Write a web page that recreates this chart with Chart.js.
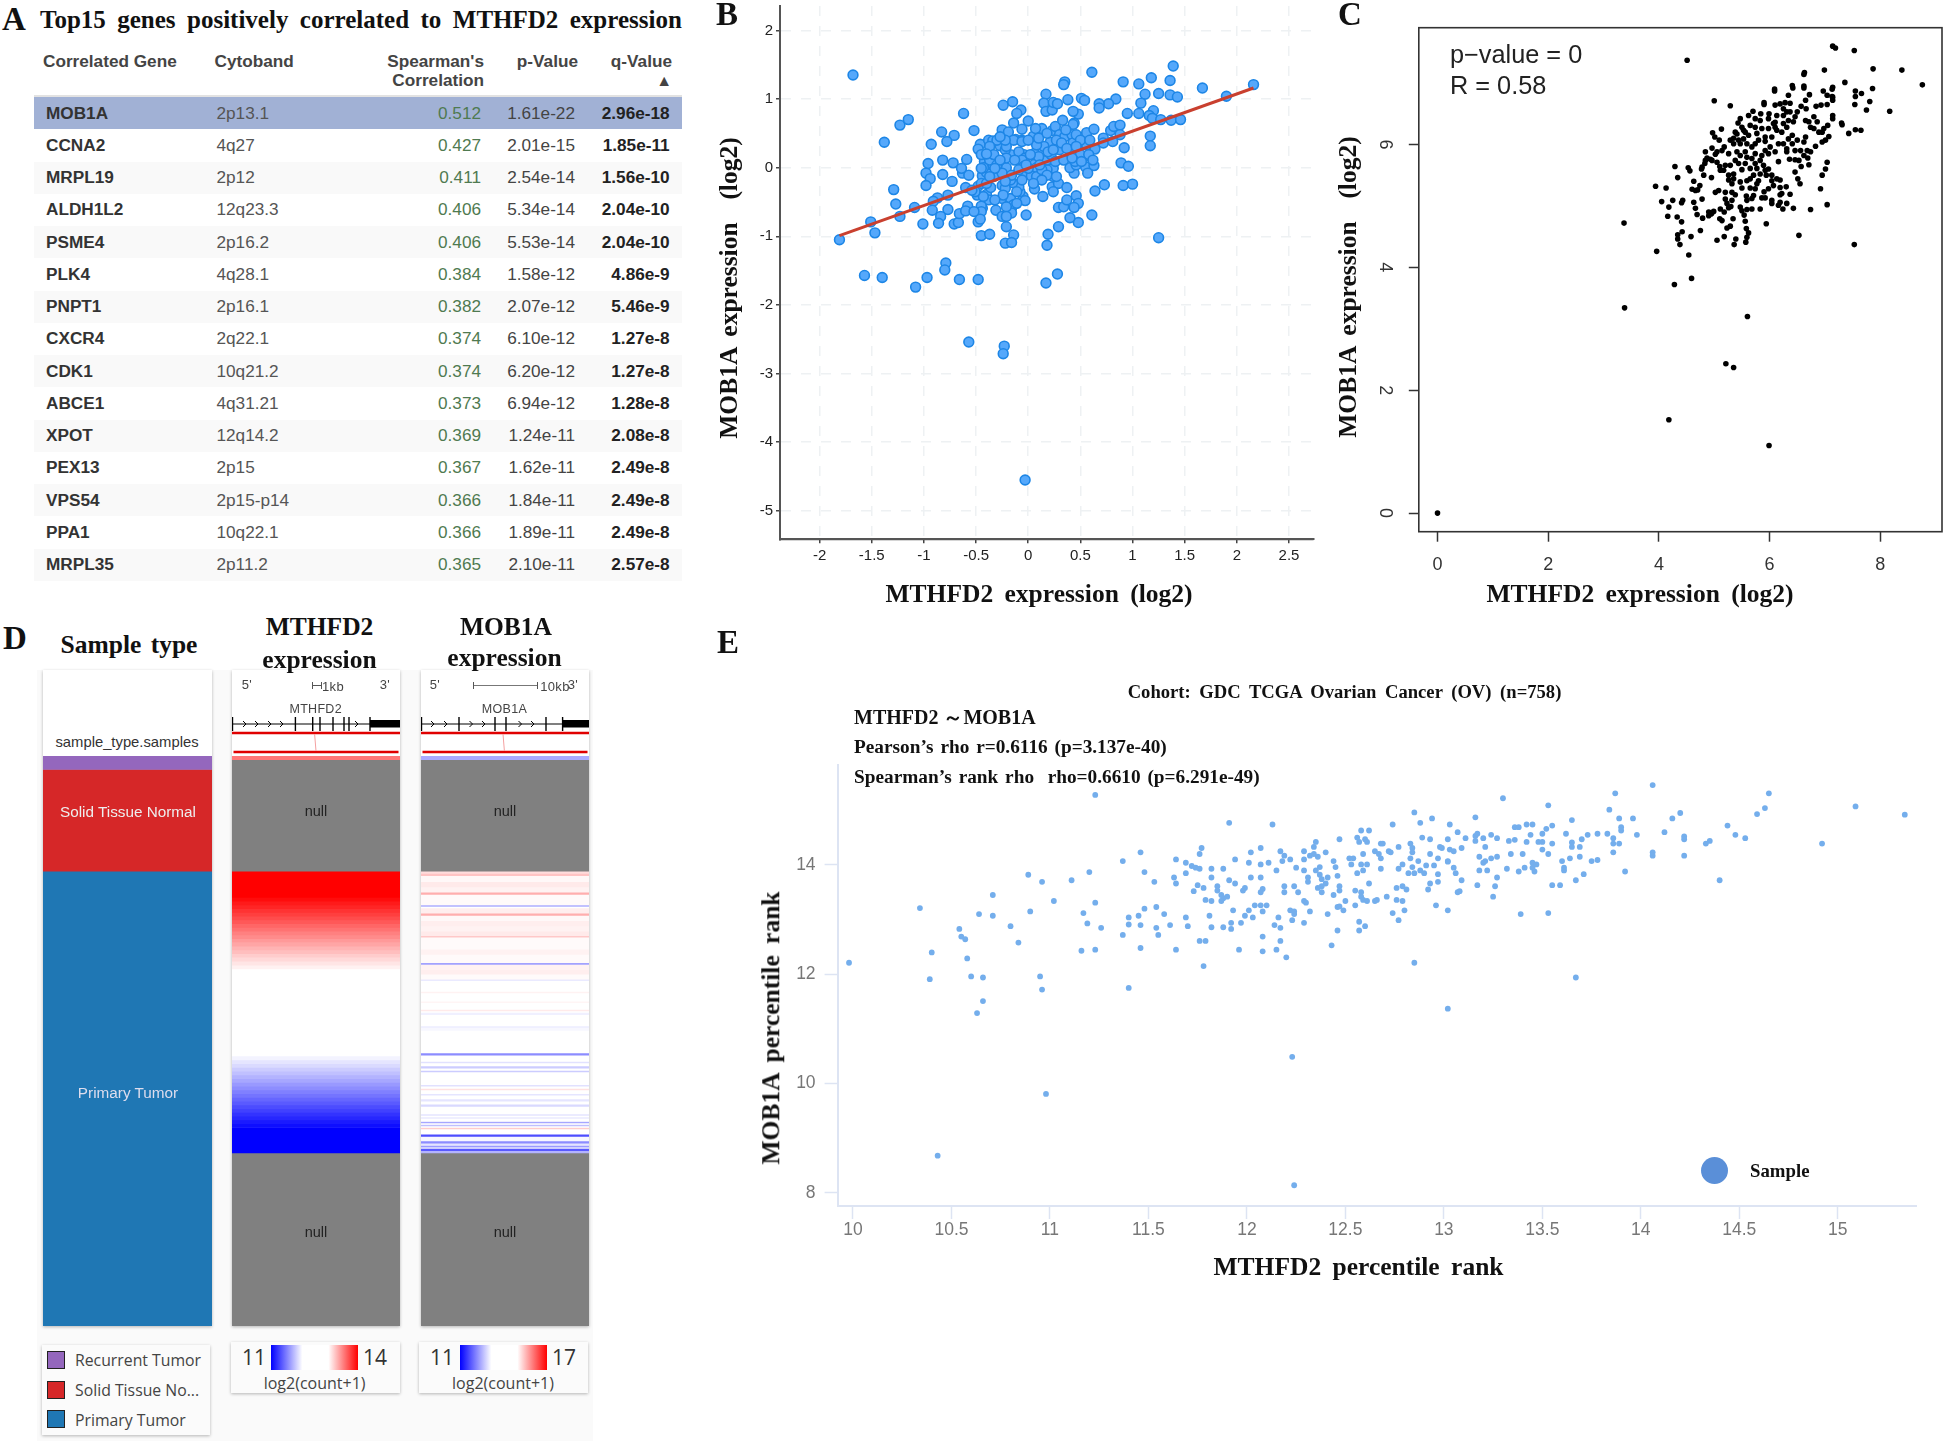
<!DOCTYPE html>
<html>
<head>
<meta charset="utf-8">
<title>MTHFD2 and MOB1A correlation</title>
<script src="https://cdn.jsdelivr.net/npm/chart.js@4/dist/chart.umd.js"></script>
<style>
  html, body { margin: 0; padding: 0; background: #fff; }
  #page { position: relative; width: 1944px; height: 1441px; overflow: hidden; font-family: "Liberation Sans", Arial, sans-serif; }
  #page canvas { position: absolute; }
  .txt { position: absolute; white-space: pre; line-height: 1; }
  .serif { font-family: "Liberation Serif", "Times New Roman", serif; font-weight: bold; color: #111; }
  .card { position: absolute; background: #fff; box-shadow: 0 1px 3px rgba(0,0,0,.28); }
  table { position: absolute; left: 33.5px; top: 49px; width: 648.5px; border-collapse: collapse; table-layout: fixed; font-size: 17.2px; color: #555; }
  th { font-weight: bold; color: #444; height: 43px; border-bottom: 2px solid #e2e2e2; vertical-align: top; font-size: 17.2px; line-height: 18.5px; padding: 3px 0 0 0; }
  td { height: 32.26px; padding: 0; }
  tr.even td { background: #f9f9f9; }
  tr.hit td { background: #a1b1d5; }
  .gene { font-weight: bold; color: #333; padding-left: 12.5px; }
  .band { padding-left: 7px; }
  .num { text-align: right; }
  .rho { color: #4f7a50; padding-right: 3px; }
  .pv { color: #444; padding-right: 3px; }
  .qv { font-weight: bold; color: #222; padding-right: 12.4px; }
</style>
</head>
<body>
<div id="page"></div>
<script>
// Panel A table
const genes = ['MOB1A','CCNA2','MRPL19','ALDH1L2','PSME4','PLK4','PNPT1','CXCR4','CDK1','ABCE1','XPOT','PEX13','VPS54','PPA1','MRPL35'];
const cytobands = ['2p13.1','4q27','2p12','12q23.3','2p16.2','4q28.1','2p16.1','2q22.1','10q21.2','4q31.21','12q14.2','2p15','2p15-p14','10q22.1','2p11.2'];
const rhos = ['0.512','0.427','0.411','0.406','0.406','0.384','0.382','0.374','0.374','0.373','0.369','0.367','0.366','0.366','0.365'];
const pValues = ['1.61e-22','2.01e-15','2.54e-14','5.34e-14','5.53e-14','1.58e-12','2.07e-12','6.10e-12','6.20e-12','6.94e-12','1.24e-11','1.62e-11','1.84e-11','1.89e-11','2.10e-11'];
const qValues = ['2.96e-18','1.85e-11','1.56e-10','2.04e-10','2.04e-10','4.86e-9','5.46e-9','1.27e-8','1.27e-8','1.28e-8','2.08e-8','2.49e-8','2.49e-8','2.49e-8','2.57e-8'];

// Panel B: expression scatter with fit line
const bTicksX = [-2,-1.5,-1,-0.5,0,0.5,1,1.5,2,2.5];
const bTicksY = [-5,-4,-3,-2,-1,0,1,2];
const bFitX = [-1.81, 2.16];
const bFitY = [-0.99, 1.16];
const bPoints = [
  [-1.68,1.35],[-1.81,-1.05],[-1.51,-0.79],[-1.47,-0.95],[-1.57,-1.57],[-1.40,-1.60],[-1.08,-1.74],[-0.97,-1.60],[-0.79,-1.39],[-0.80,-1.49],
  [-0.66,-1.63],[-0.48,-1.63],[-0.57,-2.54],[-0.23,-2.60],[-0.24,-2.71],[-0.03,-4.55],[0.17,-1.68],[0.28,-1.55],[1.25,-1.02],[0.18,-1.13],
  [0.19,-0.97],[0.29,-0.86],[-1.23,0.62],[-1.15,0.70],[-1.38,0.37],[-1.29,-0.32],[-1.27,-0.53],[-1.23,-0.71],[-1.09,-0.58],[-1.01,-0.82],
  [-0.62,0.79],[-0.93,0.34],[-0.83,0.52],[-0.71,0.47],[-0.78,0.38],[-0.52,0.54],[0.61,1.39],[0.35,1.25],[0.34,1.21],[0.91,1.25],
  [1.06,1.22],[1.18,1.31],[1.39,1.48],[1.36,1.27],[1.67,1.16],[2.16,1.21],[1.90,1.04],[1.25,1.08],[1.36,1.06],[1.43,1.03],
  [1.12,1.07],[1.08,0.94],[0.84,1.00],[0.77,0.93],[0.68,0.93],[0.68,0.87],[0.51,1.01],[0.54,0.98],[1.20,0.83],[0.95,0.79],
  [1.06,0.79],[1.16,0.76],[1.19,0.72],[1.27,0.70],[1.37,0.69],[1.46,0.70],[1.17,0.46],[1.17,0.32],[0.92,0.29],[0.89,0.07],
  [0.96,0.02],[0.91,-0.26],[1.00,-0.24],[0.73,-0.25],[0.64,-0.34],[0.61,-0.69],[0.48,-0.80],[0.40,-0.73],[-0.96,0.06],[-0.82,0.11],
  [-0.72,0.07],[-0.59,0.12],[-0.98,-0.08],[-0.94,-0.16],[-0.98,-0.26],[-0.82,-0.10],[-0.73,-0.20],[-0.63,-0.08],[-0.57,-0.11],[-0.64,-0.01],
  [-0.60,-0.29],[-0.77,-0.40],[-0.87,-0.44],[-0.91,-0.49],[-0.92,-0.62],[-0.77,-0.61],[-0.84,-0.71],[-0.86,-0.81],[-0.71,-0.82],[-0.67,-0.80],
  [-0.66,-0.67],[-0.58,-0.56],[-0.60,-0.63],[-0.48,-0.27],[-0.49,-0.40],[-0.40,-0.39],[-0.38,-0.47],[-0.44,-0.59],[-0.45,-0.56],[-0.45,-0.64],
  [-0.48,-0.79],[-0.46,-0.75],[-0.45,-0.99],[-0.37,-0.97],[-0.31,-0.62],[-0.25,-0.45],[-0.25,-0.71],[-0.21,-0.86],[-0.16,-0.59],[-0.17,-0.45],
  [-0.14,-0.54],[-0.16,-0.66],[-0.14,-0.98],[-0.22,-1.10],[-0.16,-1.09],[-0.02,-0.69],[-0.05,-0.42],[-0.03,-0.48],[-0.08,-0.35],[-0.09,-0.28],
  [-0.15,-0.22],[-0.25,-0.26],[-0.36,-0.29],[-0.33,-0.13],[-0.44,-0.12],[-0.40,-0.07],[-0.42,0.09],[-0.37,0.05],[-0.34,0.05],[-0.21,0.00],
  [-0.17,0.19],[-0.27,0.32],[-0.46,0.34],[-0.48,0.27],[-0.45,0.19],[-0.38,0.40],[-0.34,0.39],[-0.30,0.40],[-0.25,0.55],[-0.19,0.52],
  [-0.14,0.65],[-0.06,0.56],[0.00,0.68],[-0.12,0.41],[-0.06,0.40],[-0.04,0.19],[-0.09,0.23],[-0.03,0.14],[0.07,0.22],[0.06,0.05],
  [0.08,0.00],[-0.03,-0.09],[0.03,-0.12],[0.08,-0.13],[0.06,-0.31],[0.14,-0.42],[0.23,-0.28],[0.24,-0.13],[0.24,-0.01],[0.18,-0.03],
  [0.29,-0.23],[0.37,-0.29],[0.29,-0.58],[0.34,-0.57],[0.37,-0.47],[0.46,-0.41],[0.48,-0.52],[0.44,-0.58],[0.13,0.57],[0.05,0.46],
  [0.07,0.57],[0.21,0.37],[0.14,0.27],[0.23,0.54],[0.26,0.60],[0.33,0.69],[0.30,0.26],[0.30,0.48],[0.35,0.45],[0.42,0.48],
  [0.44,0.65],[0.43,0.36],[0.51,0.37],[0.56,0.51],[0.63,0.56],[0.56,0.33],[0.54,0.16],[0.55,0.01],[0.63,0.03],[0.57,-0.08],
  [0.44,-0.08],[0.40,0.00],[0.46,0.04],[0.64,0.27],[0.72,0.43],[0.72,0.36],[0.79,0.54],[0.82,0.60],[0.88,0.62],[0.88,0.48],
  [0.81,0.38],[0.48,0.78],[0.43,0.63],[0.43,0.82],[0.38,0.99],[0.17,1.07],[0.15,0.94],[0.17,0.82],[0.23,0.84],[0.24,0.95],
  [0.28,0.93],[-0.24,0.91],[-0.15,0.96],[-0.07,0.84],[-0.11,0.79],[-0.22,0.26],[-0.37,0.11],[-0.30,0.04],[-0.14,0.40],[-0.06,0.11],
  [0.00,-0.01],[-0.17,-0.18],[-0.22,-0.30],[-0.25,-0.08],[0.13,-0.03],[0.18,0.11],[0.22,0.19],[0.40,0.26],[0.50,0.19],[0.58,0.19],
  [0.36,0.55],[0.27,0.40],[0.46,0.48],[0.24,-0.35],[-0.37,0.31],[-0.33,0.19],[-0.43,0.00],[-0.45,-0.23],[-0.40,-0.23],[-0.21,-0.57],
  [-0.11,-0.35],[-0.04,0.02],[-0.21,0.31],[0.15,0.31],[0.10,0.16],[0.08,0.33],[0.19,0.23],[0.50,0.40],[0.45,0.09],[0.62,0.11],
  [-0.22,0.40],[-0.06,0.38],[0.02,0.19],[-0.21,0.14],[-0.13,0.11],[-0.27,0.11],[-0.40,0.20],[-0.32,-0.01],[-0.16,-0.11],[-0.09,-0.03],
  [-0.02,0.04],[0.11,0.04],[0.18,-0.11],[0.26,0.09],[0.34,0.11],[0.10,0.43],[0.18,0.50],[0.32,0.36],[0.37,0.28],[0.46,0.31],
  [0.59,0.40],[0.42,0.14],[0.51,0.09],[0.27,-0.13],[0.13,-0.18],[0.05,-0.23],[-0.06,-0.18],[-0.24,-0.40],[-0.32,-0.47],[-0.11,-0.52],
  [-0.21,-0.71],[-0.43,-0.42],[-0.51,-0.35],[-0.52,-0.64],[-0.45,-0.01],[-0.54,-0.33],[-0.22,-0.20],[0.00,0.40],[0.24,0.26],[-0.27,0.45],[-0.37,-0.13]
];

// Panel C: GEPIA style scatter
const cTicksX = [0,2,4,6,8];
const cTicksY = [0,2,4,6];
const cPoints = [
  [0,0],[4.18,1.52],[5.99,1.10],[5.21,2.43],[5.35,2.37],[5.60,3.20],[3.38,3.34],[4.28,3.72],[4.59,3.82],[4.54,4.20],
  [3.96,4.26],[3.37,4.72],[7.53,4.37],[6.53,4.52],[4.51,7.37],[7.14,7.60],[7.19,7.57],[7.53,7.53],[6.99,7.21],[6.63,7.17],
  [7.87,7.23],[8.39,7.21],[8.76,6.97],[8.17,6.54],[7.36,7.01],[7.86,6.91],[7.75,6.56],[7.81,6.70],[7.54,6.65],[7.55,6.87],
  [7.55,6.78],[7.66,6.83],[7.30,6.35],[7.43,6.18],[7.55,6.24],[7.65,6.23],[7.14,6.93],[7.14,6.77],[6.41,6.96],[6.62,6.95],
  [6.09,6.90],[5.00,6.71],[5.29,6.63],[5.90,6.68],[3.94,5.32],[4.13,5.29],[4.29,5.64],[4.34,5.46],[4.53,5.62],[4.56,5.57],
  [4.63,5.40],[4.60,5.27],[4.74,5.33],[4.70,5.26],[4.81,5.50],[4.95,5.46],[4.77,5.60],[4.83,5.69],[4.84,5.88],[4.96,5.94],
  [4.93,5.76],[4.87,5.78],[5.02,5.84],[5.05,5.71],[5.10,5.64],[5.17,5.58],[5.26,5.85],[5.18,5.96],[5.09,6.07],[4.97,6.19],
  [5.01,6.12],[5.13,6.25],[5.29,6.07],[5.35,6.10],[5.41,6.17],[5.47,6.42],[5.43,6.35],[5.50,6.28],[5.56,6.20],[5.62,6.15],
  [5.53,6.09],[5.47,6.01],[5.41,5.88],[5.38,5.74],[5.50,5.59],[5.26,5.50],[5.35,5.44],[5.32,5.36],[5.59,5.79],[5.56,5.69],
  [5.68,5.77],[5.74,5.69],[5.83,5.74],[5.89,5.66],[5.98,5.60],[5.94,5.50],[6.04,5.41],[6.13,5.44],[6.07,5.33],[6.19,5.30],
  [6.30,5.31],[5.65,5.44],[5.71,5.50],[5.59,5.41],[5.80,5.41],[5.77,5.36],[5.65,5.29],[5.50,5.29],[5.08,5.25],[5.02,5.22],
  [5.20,5.22],[5.32,5.22],[5.38,5.18],[5.20,5.11],[5.32,5.09],[5.58,5.16],[5.71,5.17],[5.59,5.09],[5.90,5.23],[5.86,5.13],
  [5.92,5.13],[6.04,5.09],[6.19,5.18],[6.19,5.06],[6.37,5.19],[6.16,5.01],[6.24,4.95],[6.43,4.96],[6.74,4.94],[5.83,4.95],
  [5.68,4.95],[5.59,4.94],[5.50,4.92],[5.54,4.85],[5.56,4.75],[5.94,4.71],[5.62,4.56],[5.58,4.63],[5.59,4.49],[5.57,4.41],
  [5.39,4.46],[5.36,4.37],[5.18,4.50],[5.05,4.44],[5.29,4.67],[5.23,4.64],[5.34,4.79],[5.14,4.76],[5.10,4.79],[5.18,4.90],
  [5.26,4.97],[5.30,4.99],[4.99,4.91],[4.95,4.87],[4.90,4.84],[4.79,4.80],[4.69,4.86],[4.66,4.96],[4.63,5.06],[4.78,5.11],
  [4.41,5.05],[4.43,5.09],[4.25,5.09],[4.18,4.98],[4.05,5.07],[4.16,4.83],[4.33,4.82],[4.41,4.74],[4.42,4.58],[4.34,4.53],
  [4.34,4.46],[4.38,4.37],[4.58,4.50],[4.75,4.60],[7.04,5.02],[6.92,5.28],[6.95,5.50],[7.01,5.60],[7.04,5.71],[6.71,5.67],
  [6.69,5.78],[6.55,5.36],[6.51,5.44],[6.46,5.55],[6.57,5.64],[6.16,5.72],[6.36,5.76],[6.46,5.75],[6.68,5.90],[6.74,5.88],
  [6.83,5.97],[6.95,6.04],[7.01,6.07],[7.07,6.13],[6.89,6.20],[6.98,6.26],[7.05,6.31],[7.31,6.32],[7.14,6.47],[7.14,6.42],
  [6.86,6.37],[6.80,6.45],[6.74,6.28],[6.65,6.12],[6.62,6.04],[6.50,6.07],[6.41,6.15],[6.34,6.09],[6.25,6.01],[6.46,5.90],
  [6.31,5.93],[6.10,5.88],[5.98,5.85],[5.92,5.90],[6.01,5.96],[6.16,6.01],[6.04,6.12],[5.92,6.05],[5.80,6.07],[5.74,6.01],
  [5.68,5.96],[6.13,6.23],[5.98,6.26],[5.74,6.28],[5.83,6.39],[5.74,6.42],[5.62,6.47],[5.70,6.54],[5.84,6.50],[5.99,6.50],
  [5.98,6.42],[6.10,6.36],[6.10,6.28],[6.25,6.34],[6.31,6.28],[6.43,6.37],[6.37,6.53],[6.46,6.45],[6.65,6.39],[5.90,6.65],
  [6.10,6.64],[6.19,6.66],[6.28,6.68],[6.37,6.67],[6.25,6.58],[6.34,6.80],[6.42,6.92],[6.09,6.87],[6.62,7.14],[6.62,6.92],
  [6.72,6.81],[6.65,6.72],[6.57,6.62],[6.66,6.58],[6.84,6.62],[6.93,6.64],[7.04,6.65],[7.14,6.72],[7.13,6.78],[6.97,6.87],
  [7.04,6.80],[7.13,6.90],[5.35,6.01],[5.44,6.07],[5.53,6.23],[5.59,6.01],[5.47,5.82],[5.56,5.88],[5.74,5.85],[5.86,5.82],
  [5.77,5.61],[5.92,5.58],[5.83,5.52],[6.04,5.50],[6.19,5.42],[5.65,5.61],[5.44,5.69],[5.29,5.66],[5.20,5.66],[5.11,5.58],
  [5.35,5.52],[5.26,5.42],[5.47,5.39],[5.74,5.28],[5.98,5.28],[6.31,5.88],[6.41,6.01],[6.56,5.90],[6.62,5.82],[6.53,5.74],
  [6.22,6.20],[6.34,6.39],[6.25,6.47],[6.31,6.53],[6.50,6.53],[6.71,6.37],[6.80,6.26],[6.95,6.20],[6.13,6.47],[6.07,6.34],
  [5.86,6.26],[5.77,6.18],[5.92,6.12],[5.65,6.31],[5.38,6.20],[5.14,5.90],[5.05,5.88],[4.96,5.74],[4.84,5.74],[4.78,5.63],
  [4.66,5.25],[5.23,5.04],[5.11,4.95],[4.90,4.90],[5.47,4.98],[5.68,5.12],[6.04,5.04],[6.22,5.20],[6.31,5.04]
];

// Panel E: percentile rank scatter
const eTicksX = [10,10.5,11,11.5,12,12.5,13,13.5,14,14.5,15];
const eTicksY = [8,10,12,14];
const ePoints = [
  [9.98,12.21],[10.34,13.21],[10.40,12.40],[10.39,11.91],[10.43,8.68],[10.54,12.83],[10.55,12.69],[10.57,12.64],[10.58,12.29],[10.60,11.96],
  [10.66,11.94],[10.66,11.51],[10.63,11.29],[10.64,13.10],[10.71,13.07],[10.71,13.45],[10.80,12.88],[10.84,12.58],[10.89,13.82],[10.90,13.15],
  [10.96,13.69],[10.95,11.96],[10.96,11.72],[10.98,9.81],[11.02,13.34],[11.11,13.72],[11.17,13.12],[11.19,12.93],[11.16,12.43],[11.20,13.87],
  [11.23,13.31],[11.23,12.45],[11.26,12.85],[11.23,15.28],[11.37,14.07],[11.37,12.72],[11.40,13.04],[11.40,12.91],[11.40,11.75],[11.45,13.07],
  [11.46,14.23],[11.46,12.90],[11.46,12.48],[11.48,13.87],[11.48,13.20],[11.53,13.69],[11.64,14.10],[11.63,13.77],[11.64,13.66],[11.54,13.23],
  [11.58,13.10],[11.61,12.90],[11.54,12.85],[11.55,12.72],[11.64,12.45],[11.69,14.04],[11.69,13.85],[11.72,13.98],[11.74,13.95],[11.76,13.93],
  [11.76,14.20],[11.77,14.31],[11.75,13.63],[11.73,13.52],[11.78,13.58],[11.79,13.36],[11.69,13.04],[11.70,12.88],[11.76,12.61],[11.79,12.61],
  [11.78,12.15],[11.81,13.07],[11.82,12.86],[11.82,13.34],[11.82,13.93],[11.82,13.77],[11.88,13.93],[11.91,14.77],[11.94,14.10],[11.91,13.72],
  [11.94,13.66],[11.85,13.61],[11.85,13.53],[11.87,13.45],[11.88,13.39],[11.90,13.42],[11.87,13.34],[11.93,13.17],[11.88,12.86],[11.92,12.94],
  [11.92,12.83],[11.97,12.94],[11.96,12.45],[11.99,13.07],[12.01,13.17],[12.03,13.04],[12.02,14.23],[12.01,14.04],[12.02,13.77],[11.99,13.58],
  [11.98,13.53],[12.04,13.26],[12.07,13.26],[12.10,13.26],[12.08,13.15],[12.07,14.31],[12.07,14.01],[12.11,14.04],[12.07,13.77],[12.08,13.56],
  [12.07,13.50],[12.08,12.69],[12.08,12.42],[12.13,14.74],[12.15,13.90],[12.17,14.25],[12.19,14.17],[12.18,14.07],[12.22,14.10],[12.19,13.61],
  [12.19,13.50],[12.24,13.61],[12.26,13.50],[12.16,13.04],[12.14,12.90],[12.17,12.85],[12.17,12.61],[12.15,12.45],[12.20,12.31],[12.22,13.17],
  [12.24,13.15],[12.24,13.10],[12.23,12.99],[12.25,13.95],[12.29,14.25],[12.29,14.10],[12.29,13.90],[12.31,13.77],[12.31,13.69],[12.29,13.34],
  [12.30,13.31],[12.32,13.15],[12.29,12.94],[12.32,14.17],[12.34,14.20],[12.34,14.33],[12.35,14.42],[12.36,14.15],[12.40,14.23],[12.35,13.90],
  [12.37,13.96],[12.37,13.82],[12.38,13.74],[12.41,13.77],[12.40,13.66],[12.38,13.61],[12.36,13.58],[12.38,13.50],[12.44,13.45],[12.41,13.10],
  [12.46,13.23],[12.47,13.24],[12.49,13.17],[12.50,13.34],[12.46,12.80],[12.43,12.53],[12.47,14.47],[12.44,14.07],[12.45,13.96],[12.46,13.80],
  [12.47,13.61],[12.47,13.53],[12.52,14.12],[12.54,14.12],[12.53,14.01],[12.56,14.50],[12.57,14.42],[12.58,14.63],[12.62,14.63],[12.60,14.47],
  [12.61,14.42],[12.59,14.20],[12.58,14.01],[12.61,14.01],[12.59,13.90],[12.56,13.85],[12.62,13.66],[12.55,13.53],[12.58,13.50],[12.58,13.42],
  [12.59,13.36],[12.61,13.34],[12.65,13.34],[12.66,13.36],[12.71,13.42],[12.55,13.26],[12.57,12.96],[12.60,12.88],[12.57,12.80],[12.65,14.25],
  [12.67,14.20],[12.68,14.12],[12.68,13.93],[12.68,14.39],[12.69,14.39],[12.74,14.74],[12.72,14.25],[12.73,14.23],[12.77,14.33],[12.77,13.93],
  [12.79,14.01],[12.76,13.58],[12.79,13.61],[12.81,13.55],[12.76,13.36],[12.79,13.34],[12.80,13.17],[12.74,13.12],[12.77,12.99],[12.85,14.96],
  [12.88,14.77],[12.94,14.85],[12.83,14.39],[12.84,14.31],[12.84,14.23],[12.83,14.12],[12.87,14.07],[12.84,13.96],[12.82,13.85],[12.85,13.85],
  [12.88,13.90],[12.90,13.85],[12.91,13.99],[12.89,14.50],[12.93,14.47],[12.93,14.20],[12.95,13.99],[12.97,14.12],[12.98,14.33],[12.99,14.31],
  [12.97,13.83],[12.97,13.69],[12.93,13.66],[12.92,13.55],[12.96,13.26],[13.02,13.17],[13.03,14.28],[13.02,14.06],[13.03,14.74],[12.85,12.21],
  [12.23,10.49],[12.24,8.14],[13.07,14.60],[13.02,14.47],[13.11,14.49],[13.09,14.31],[13.05,14.25],[13.02,14.07],[13.05,13.95],[13.06,13.85],
  [13.09,13.72],[13.07,13.50],[13.08,13.52],[13.02,11.37],[13.16,14.87],[13.16,14.53],[13.16,14.44],[13.17,14.57],[13.20,14.49],[13.24,14.55],
  [13.27,14.49],[13.21,14.33],[13.18,14.15],[13.21,14.07],[13.20,14.04],[13.24,14.12],[13.27,14.15],[13.18,13.90],[13.22,13.90],[13.27,13.77],
  [13.17,13.63],[13.26,13.61],[13.25,13.42],[13.30,15.22],[13.33,14.44],[13.36,14.69],[13.38,14.69],[13.36,14.46],[13.34,14.20],[13.40,14.20],
  [13.32,13.93],[13.38,13.88],[13.41,13.95],[13.39,13.10],[13.42,14.74],[13.45,14.74],[13.44,14.55],[13.42,14.42],[13.48,14.42],[13.50,14.42],
  [13.50,14.57],[13.52,14.66],[13.50,14.28],[13.53,14.20],[13.45,14.04],[13.47,14.01],[13.45,13.95],[13.46,13.88],[13.55,14.72],[13.55,14.39],
  [13.53,15.09],[13.65,14.82],[13.62,14.57],[13.65,14.41],[13.65,14.33],[13.69,14.33],[13.60,14.07],[13.64,14.12],[13.69,14.15],[13.61,13.95],
  [13.61,13.90],[13.71,13.83],[13.67,13.72],[13.55,13.63],[13.59,13.63],[13.53,13.12],[13.67,11.94],[13.70,14.47],[13.73,14.55],[13.78,14.57],
  [13.75,14.07],[13.78,14.09],[13.84,15.01],[13.87,15.31],[13.89,14.85],[13.83,14.57],[13.86,14.49],[13.86,14.39],[13.89,14.39],[13.86,14.23],
  [13.92,13.88],[13.90,14.69],[13.90,14.63],[13.96,14.85],[13.98,14.55],[14.06,15.46],[14.06,14.23],[14.06,14.17],[14.12,14.60],[14.16,14.85],
  [14.20,14.95],[14.22,14.52],[14.22,14.47],[14.22,14.17],[14.33,14.39],[14.35,14.44],[14.40,13.72],[14.44,14.72],[14.48,14.55],[14.53,14.49],
  [14.59,14.93],[14.63,15.04],[14.65,15.31],[14.92,14.39],[15.09,15.07],[15.34,14.92]
];

// Panel D: sample type stack and expression heatmap bands (counts of samples, null = no data)
const sampleTypes = ['Recurrent Tumor','Solid Tissue Normal','Primary Tumor'];
const sampleCounts = [18, 135, 605];
const sampleColors = ['#9467bd', '#d62728', '#1f77b4'];
const sampleTotal = 758;
const mthfd2Counts = [5,148,35,5,5,5,5,5,5,5,5,5,5,5,5,5,5,5,5,5,5,5,5,111,5,5,5,5,5,5,5,5,5,5,5,5,5,5,5,5,5,5,5,5,29,230];
const mthfd2Values = [13.3,null,14,13.93,13.85,13.78,13.7,13.63,13.55,13.48,13.4,13.33,13.25,13.18,13.1,13.03,12.95,12.88,12.8,12.73,12.65,12.58,12.5,12.5,
  12.43,12.35,12.28,12.2,12.13,12.05,11.98,11.9,11.83,11.75,11.68,11.6,11.53,11.45,11.38,11.3,11.23,11.15,11.08,11.0,11,null];
const mob1aCounts = [5,148,3,3,8,7,7,3,14,2,2,7,3,7,7,7,6,2,16,7,11,2,7,6,7,1,15,2,11,2,9,2,2,3,15,2,4,
  30,3,8,2,4,3,3,2,17,2,3,2,5,2,5,3,4,3,10,2,2,2,4,2,2,2,2,2,7,3,6,3,3,2,2,3,3,230];
const mob1aValues = [13,null,14.4,14.7,14.08,14.25,14.15,14.95,14.06,13.05,14,14.2,14.95,14.08,14.2,14.15,14.25,14.65,14.06,14.15,14.06,12.9,14.15,14.2,14.06,13.5,14,14.15,14,14.12,14,14.25,14,13.82,14,13.78,13.9,
  14,12.65,14,13.65,14,13.4,14,13.4,14,13.65,14,14.35,14,13.7,14,13.7,14,13.55,14,13.7,14,13.75,14,12.95,14,13.25,14,14.6,14,11.9,13.9,12.65,13.7,12.8,13.7,12.05,13.1,null];

const page = document.getElementById('page');

function addText(text, x, y, style, anchor) {
  const div = document.createElement('div');
  div.className = 'txt';
  div.textContent = text;
  div.style.left = x + 'px';
  div.style.top = y + 'px';
  div.style.transform = anchor || 'translate(-50%,-50%)';
  Object.assign(div.style, style);
  page.appendChild(div);
  return div;
}

function addSerif(text, x, y, size, extra, anchor) {
  const div = addText(text, x, y, Object.assign({ fontSize: size + 'px' }, extra), anchor);
  div.classList.add('serif');
  return div;
}

function addBox(cls, x, y, w, h, style) {
  const div = document.createElement('div');
  div.className = cls;
  Object.assign(div.style, { position: 'absolute', left: x + 'px', top: y + 'px', width: w + 'px', height: h + 'px' }, style);
  page.appendChild(div);
  return div;
}

function addCanvas(x, y, w, h) {
  const canvas = document.createElement('canvas');
  canvas.width = w;
  canvas.height = h;
  canvas.style.left = x + 'px';
  canvas.style.top = y + 'px';
  canvas.style.width = w + 'px';
  canvas.style.height = h + 'px';
  page.appendChild(canvas);
  return canvas;
}

function fixedTicks(list) {
  return (scale) => { scale.ticks = list.map(v => ({ value: v })); };
}

// Pin an axis band to a set size and drop the label margins, so the plot area lands where we want it
function fitHeight(h) {
  return (s) => { s.height = h; s.paddingLeft = s.paddingRight = s.paddingTop = s.paddingBottom = 0; };
}

function fitWidth(w) {
  return (s) => { s.width = w; s.paddingLeft = s.paddingRight = s.paddingTop = s.paddingBottom = 0; };
}

function renderTable() {
  const table = document.createElement('table');
  const head = '<tr><th style="width:176px;text-align:left;padding-left:9.5px;box-sizing:border-box">Correlated Gene</th>'
    + '<th style="width:190.5px;text-align:left;padding-left:5px;box-sizing:border-box">Cytoband</th>'
    + '<th style="width:84px;text-align:right;white-space:nowrap;direction:rtl"><span style="direction:ltr;unicode-bidi:embed">Spearman\'s<br>Correlation</span></th>'
    + '<th style="width:94px;text-align:right;padding-right:0">p-Value</th>'
    + '<th style="width:104px;text-align:right;padding-right:10px;box-sizing:border-box">q-Value<br><span style="font-size:16px">&#9650;</span></th></tr>';
  let rows = '';
  genes.forEach((g, i) => {
    const cls = i === 0 ? 'hit' : (i % 2 === 0 ? 'even' : '');
    rows += `<tr class="${cls}"><td class="gene">${g}</td><td class="band">${cytobands[i]}</td>`
      + `<td class="num rho">${rhos[i]}</td><td class="num pv">${pValues[i]}</td><td class="num qv">${qValues[i]}</td></tr>`;
  });
  table.innerHTML = `<thead>${head}</thead><tbody>${rows}</tbody>`;
  page.appendChild(table);
}

function renderPanelB() {
  const canvas = addCanvas(700, 0, 640, 620);
  const tickFont = { family: '"Liberation Sans", Arial, sans-serif', size: 15 };
  const gridStyle = { color: '#eef1f3', lineWidth: 1.5, tickColor: '#444', tickLength: 4 };
  new Chart(canvas.getContext('2d'), {
    type: 'scatter',
    data: {
      datasets: [
        {
          type: 'line',
          data: bFitX.map((x, i) => ({ x, y: bFitY[i] })),
          borderColor: '#c9402f',
          borderWidth: 3,
          pointRadius: 0,
          order: 0
        },
        {
          data: bPoints.map(p => ({ x: p[0], y: p[1] })),
          backgroundColor: '#55a8fb',
          borderColor: '#1d86e6',
          borderWidth: 1.6,
          pointRadius: 4.9,
          order: 1
        }
      ]
    },
    options: {
      responsive: false,
      animation: false,
      layout: { autoPadding: false, padding: { top: 6, right: 26.5, left: 0, bottom: 0 } },
      plugins: { legend: { display: false }, tooltip: { enabled: false } },
      scales: {
        x: {
          type: 'linear', min: -2.38, max: 2.735,
          afterBuildTicks: fixedTicks(bTicksX),
          afterFit: fitHeight(80.7),
          grid: gridStyle,
          border: { color: '#555', width: 2, dash: [10, 10], display: true },
          ticks: { color: '#222', font: tickFont, padding: 4, maxRotation: 0, callback: v => String(v) }
        },
        y: {
          type: 'linear', min: -5.414, max: 2.355,
          afterBuildTicks: fixedTicks(bTicksY),
          afterFit: fitWidth(80),
          grid: gridStyle,
          border: { color: '#555', width: 2, dash: [10, 10], display: true },
          ticks: { color: '#222', font: tickFont, padding: 3, callback: v => String(v) }
        }
      }
    },
    plugins: [{
      // solid axis lines over the dashed grid
      id: 'axisLines',
      beforeDatasetsDraw(chart) {
        const { ctx, chartArea: a } = chart;
        ctx.save();
        ctx.strokeStyle = '#555';
        ctx.lineWidth = 2;
        ctx.beginPath();
        ctx.moveTo(a.left, a.top);
        ctx.lineTo(a.left, a.bottom);
        ctx.lineTo(a.right, a.bottom);
        ctx.stroke();
        ctx.restore();
      }
    }]
  });
}

function renderPanelC() {
  const canvas = addCanvas(1320, 0, 624, 620);
  const tickFont = { family: '"Liberation Sans", Arial, sans-serif', size: 18 };
  const gridStyle = { drawOnChartArea: false, tickColor: '#333', tickLength: 10, tickWidth: 1.5 };
  new Chart(canvas.getContext('2d'), {
    type: 'scatter',
    data: {
      datasets: [{
        data: cPoints.map(p => ({ x: p[0], y: p[1] })),
        backgroundColor: '#000',
        borderWidth: 0,
        pointRadius: 2.8
      }]
    },
    options: {
      responsive: false,
      animation: false,
      layout: { autoPadding: false, padding: { top: 27.7, right: 2, left: 0, bottom: 0 } },
      plugins: { legend: { display: false }, tooltip: { enabled: false } },
      scales: {
        x: {
          type: 'linear', min: -0.338, max: 9.115,
          afterBuildTicks: fixedTicks(cTicksX),
          afterFit: fitHeight(88.3),
          grid: gridStyle,
          border: { display: false },
          ticks: { color: '#333', font: tickFont, padding: 13, maxRotation: 0, callback: v => String(v) }
        },
        y: {
          type: 'linear', min: -0.303, max: 7.9,
          afterBuildTicks: fixedTicks(cTicksY),
          afterFit: fitWidth(98.8),
          grid: gridStyle,
          border: { display: false },
          ticks: { color: '#333', font: tickFont, padding: 19, minRotation: -90, maxRotation: -90, crossAlign: 'center', callback: v => String(v) }
        }
      }
    },
    plugins: [{
      id: 'boxBorder',
      afterDraw(chart) {
        const { ctx, chartArea: a } = chart;
        ctx.save();
        ctx.strokeStyle = '#333';
        ctx.lineWidth = 1.6;
        ctx.strokeRect(a.left, a.top, a.right - a.left, a.bottom - a.top);
        ctx.restore();
      }
    }]
  });
}

function renderPanelE() {
  const canvas = addCanvas(740, 660, 1204, 640);
  const tickFont = { family: '"Liberation Sans", Arial, sans-serif', size: 17.5 };
  const gridStyle = { drawOnChartArea: false, tickColor: '#dde4f3', tickLength: 13, tickWidth: 1.5 };
  new Chart(canvas.getContext('2d'), {
    type: 'scatter',
    data: {
      datasets: [{
        data: ePoints.map(p => ({ x: p[0], y: p[1] })),
        backgroundColor: '#74aeec',
        borderWidth: 0,
        pointRadius: 2.9
      }]
    },
    options: {
      responsive: false,
      animation: false,
      layout: { autoPadding: false, padding: { top: 104.9, right: 27.4, left: 0, bottom: 0 } },
      plugins: { legend: { display: false }, tooltip: { enabled: false } },
      scales: {
        x: {
          type: 'linear', min: 9.922, max: 15.4,
          afterBuildTicks: fixedTicks(eTicksX),
          afterFit: fitHeight(94),
          grid: gridStyle,
          border: { color: '#dde4f3', width: 2 },
          ticks: { color: '#777', font: tickFont, padding: 1, maxRotation: 0, callback: v => String(v) }
        },
        y: {
          type: 'linear', min: 7.76, max: 15.83,
          afterBuildTicks: fixedTicks(eTicksY),
          afterFit: fitWidth(97.6),
          grid: gridStyle,
          border: { color: '#dde4f3', width: 2 },
          ticks: { color: '#777', font: tickFont, padding: 9, callback: v => String(v) }
        }
      }
    }
  });
}

function exprColor(v, lo, hi) {
  if (v === null) return '#808080';
  const mid = (lo + hi) / 2;
  const a = Math.min(1, Math.abs(v - mid) / (hi - mid));
  const c = Math.round(255 * (1 - a));
  return v >= mid ? `rgb(255,${c},${c})` : `rgb(${c},${c},255)`;
}

function renderStack(x, w, counts, colors) {
  const canvas = addCanvas(x, 756, w, 570);
  new Chart(canvas.getContext('2d'), {
    type: 'bar',
    data: {
      labels: ['samples'],
      datasets: counts.map((n, i) => ({
        data: [n],
        backgroundColor: colors[i],
        borderWidth: 0,
        barPercentage: 1,
        categoryPercentage: 1
      }))
    },
    options: {
      responsive: false,
      animation: false,
      layout: { padding: 0 },
      plugins: { legend: { display: false }, tooltip: { enabled: false } },
      scales: {
        x: { stacked: true, display: false },
        y: { stacked: true, display: false, reverse: true, min: 0, max: sampleTotal }
      }
    }
  });
}

function addGeneTrack(x, w, name, ticks, arrows, thickStart, diag) {
  const NS = 'http://www.w3.org/2000/svg';
  const svg = document.createElementNS(NS, 'svg');
  svg.setAttribute('width', w);
  svg.setAttribute('height', 90);
  svg.style.position = 'absolute';
  svg.style.left = x + 'px';
  svg.style.top = '670px';
  const add = (tag, attrs) => {
    const n = document.createElementNS(NS, tag);
    Object.keys(attrs).forEach(k => n.setAttribute(k, attrs[k]));
    svg.appendChild(n);
  };
  add('line', { x1: 0, x2: thickStart, y1: 54, y2: 54, stroke: '#000', 'stroke-width': 1.2 });
  add('rect', { x: thickStart, y: 50, width: w - thickStart, height: 7.5, fill: '#000' });
  ticks.forEach(t => add('line', { x1: t, x2: t, y1: 47, y2: 61, stroke: '#000', 'stroke-width': 1.4 }));
  arrows.forEach(a => add('path', { d: `M${a - 2} 51 L${a + 1} 54 L${a - 2} 57`, fill: 'none', stroke: '#000', 'stroke-width': 1 }));
  add('line', { x1: 0, x2: w, y1: 63, y2: 63, stroke: '#e00000', 'stroke-width': 2.4 });
  add('line', { x1: 1.5, x2: w - 1.5, y1: 82, y2: 82, stroke: '#e00000', 'stroke-width': 2.4 });
  add('line', { x1: diag, x2: diag + 1.4, y1: 64, y2: 81, stroke: '#f4a0a0', 'stroke-width': 1 });
  page.appendChild(svg);
}

function renderPanelD() {
  addBox('', 37, 670, 556, 771, { background: '#fafafa' });
  addBox('card', 43, 670, 169, 656);
  addBox('card', 232, 670, 168, 656);
  addBox('card', 421, 670, 168, 656);

  renderStack(43, 169, sampleCounts, sampleColors);
  renderStack(232, 168, mthfd2Counts, mthfd2Values.map(v => exprColor(v, 11, 14)));
  renderStack(421, 168, mob1aCounts, mob1aValues.map(v => exprColor(v, 11, 17)));

  addGeneTrack(232, 168, 'MTHFD2', [0.5,63.4,80.7,88,101,112,117,138], [13,25,38,50,125], 138, 82.6);
  addGeneTrack(421, 168, 'MOB1A', [0.5,38,74,85,125,141.6], [12,25,50.5,63,99.5,112], 141.6, 82);

  const small = { fontSize: '13px', color: '#444', letterSpacing: '0.3px' };
  addText("5'", 247, 684, small);
  addText('1kb', 333, 686, small);
  addText("3'", 385, 684, small);
  addText('MTHFD2', 315.7, 709, Object.assign({}, small, { fontSize: '12.5px' }));
  addText("5'", 435, 684, small);
  addText('10kb', 555, 686, small);
  addText("3'", 573, 684, small);
  addText('MOB1A', 504.4, 709, Object.assign({}, small, { fontSize: '12.5px' }));
  addBox('', 312, 685, 9, 1.3, { background: '#555' });
  addBox('', 312, 682, 1.3, 7, { background: '#555' });
  addBox('', 320.5, 682, 1.3, 7, { background: '#555' });
  addBox('', 472.6, 685, 65, 1.3, { background: '#777' });
  addBox('', 472.6, 682, 1.3, 7, { background: '#555' });
  addBox('', 537, 682, 1.3, 7, { background: '#555' });

  addText('sample_type.samples', 127, 742, { fontSize: '14.8px', color: '#333' });
  addText('Solid Tissue Normal', 128, 812, { fontSize: '15.3px', color: '#eee' });
  addText('Primary Tumor', 128, 1093, { fontSize: '15.3px', color: '#dde' });
  addText('null', 316, 811, { fontSize: '14.5px', color: '#222' });
  addText('null', 505, 811, { fontSize: '14.5px', color: '#222' });
  addText('null', 316, 1232, { fontSize: '14.5px', color: '#222' });
  addText('null', 505, 1232, { fontSize: '14.5px', color: '#222' });

  addSerif('D', 3, 638, 33, {}, 'translate(0,-50%)');
  addSerif('Sample type', 129, 645, 25.5, { wordSpacing: '3px' });
  addSerif('MTHFD2', 319.5, 627, 25.5);
  addSerif('expression', 319.5, 660, 25.5);
  addSerif('MOB1A', 506, 627, 25.5);
  addSerif('expression', 504.5, 658, 25.5);

  // sample type legend
  addBox('card', 42, 1345, 168, 90, { background: '#fbfbfb' });
  sampleTypes.forEach((t, i) => {
    addBox('', 47, 1351 + i * 29.7, 16, 16, { background: sampleColors[i], border: '1.5px solid #222' });
    const name = i === 1 ? 'Solid Tissue No...' : t;
    addText(name, 75, 1361 + i * 29.8, { fontSize: '15.8px', color: '#444', fontFamily: '"Open Sans", sans-serif' }, 'translate(0,-50%)');
  });

  // colour bars
  [[231, 254, 271, 375, 314.6, '14'], [419, 442, 459.6, 564, 503, '17']].forEach(b => {
    addBox('card', b[0], 1342, 169, 51, { background: '#fbfbfb' });
    addBox('', b[2], 1345, 87, 25, { background: 'linear-gradient(to right,#00f,#fff 36%,#fff 66%,#f00)' });
    addText('11', b[1], 1357, { fontSize: '21px', color: '#333', fontFamily: '"Open Sans", sans-serif' });
    addText(b[5], b[3], 1357, { fontSize: '21px', color: '#333', fontFamily: '"Open Sans", sans-serif' });
    addText('log2(count+1)', b[4], 1383, { fontSize: '16px', color: '#444', fontFamily: '"Open Sans", sans-serif' });
  });
}

function renderLabels() {
  const wide = { wordSpacing: '5px' };
  addSerif('A', 2, 19, 33, {}, 'translate(0,-50%)');
  addSerif('Top15 genes positively correlated to MTHFD2 expression', 40, 19, 25, { wordSpacing: '5.2px' }, 'translate(0,-50%)');

  addSerif('B', 716, 14, 33, {}, 'translate(0,-50%)');
  addSerif('MTHFD2 expression (log2)', 1039, 594, 25.5, wide);
  addSerif('MOB1A expression  (log2)', 729, 288, 25.5, wide, 'translate(-50%,-50%) rotate(-90deg)');

  addSerif('C', 1338, 14, 33, {}, 'translate(0,-50%)');
  addSerif('MTHFD2 expression (log2)', 1640, 594, 25.5, wide);
  addSerif('MOB1A expression  (log2)', 1348, 287, 25.5, wide, 'translate(-50%,-50%) rotate(-90deg)');
  addText('p\u2212value = 0', 1450, 55, { fontSize: '25.3px', color: '#222' }, 'translate(0,-50%)');
  addText('R = 0.58', 1450, 85.5, { fontSize: '25.3px', color: '#222' }, 'translate(0,-50%)');

  addSerif('E', 717, 642, 33, {}, 'translate(0,-50%)');
  addSerif('Cohort: GDC TCGA Ovarian Cancer (OV) (n=758)', 1344.5, 692, 18.6, { wordSpacing: '4px' });
  addSerif('MTHFD2 \uFF5EMOB1A', 854, 717, 20, {}, 'translate(0,-50%)');
  addSerif('Pearson\u2019s rho r=0.6116 (p=3.137e-40)', 854, 747, 19.3, { wordSpacing: '2px' }, 'translate(0,-50%)');
  addSerif('Spearman\u2019s rank rho  rho=0.6610 (p=6.291e-49)', 854, 777, 19.3, { wordSpacing: '2px' }, 'translate(0,-50%)');
  addSerif('MTHFD2 percentile rank', 1358.5, 1267, 25.5, wide);
  addSerif('MOB1A percentile rank', 771, 1028, 25.5, wide, 'translate(-50%,-50%) rotate(-90deg)');
  addBox('', 1700.5, 1156.5, 27, 27, { background: '#5a8fd8', borderRadius: '50%' });
  addSerif('Sample', 1750, 1171, 18.8, {}, 'translate(0,-50%)');
}

(function init() {
  renderTable();
  renderPanelB();
  renderPanelC();
  renderPanelD();
  renderPanelE();
  renderLabels();
})();
</script>
</body>
</html>
